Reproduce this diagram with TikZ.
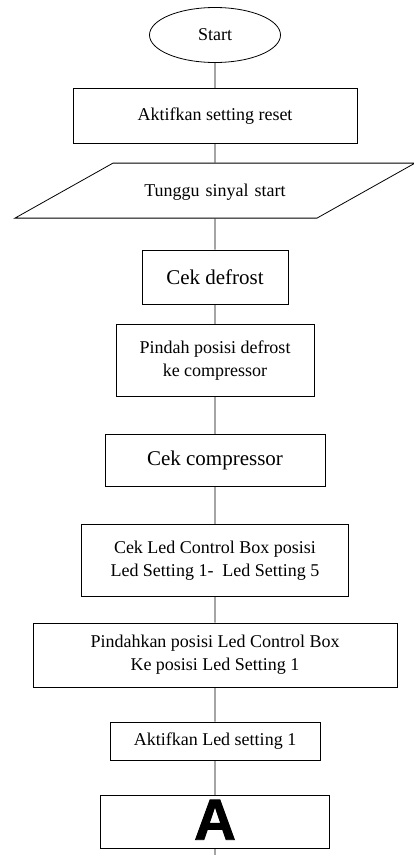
\documentclass[tikz,border=0pt]{standalone}
\usepackage{fontspec}
\setmainfont{Liberation Serif}
\newfontfamily\bigsans[BoldFeatures={FakeBold=1.5}]{Liberation Sans}
\usetikzlibrary{positioning,shapes.geometric}

\begin{document}
\begin{tikzpicture}[
  box/.style={draw, line width=0.8pt, rectangle, align=center, inner sep=0pt, font=\fontsize{18}{23}\selectfont},
  bigbox/.style={box, font=\fontsize{21}{25}\selectfont},
  term/.style={draw, line width=0.8pt, ellipse, inner sep=0pt, font=\fontsize{18}{23}\selectfont},
  io/.style={draw, line width=0.8pt, trapezium, trapezium left angle=29.3, trapezium right angle=150.7,
             inner sep=0pt, align=center, font=\fontsize{18}{23}\selectfont},
  flow/.style={draw, line width=0.8pt}
]
\useasboundingbox (0,0) rectangle (414pt,-855pt);

\node[term, minimum width=131pt, minimum height=55pt]  (start) at (215pt,-35pt)   {Start};
\node[box, minimum width=284pt, minimum height=55pt]   (reset)     [below=25pt of start]     {Aktifkan setting reset};
\node[io, text width=204pt, text height=33pt, text depth=22pt] (sinyal) [below=19pt of reset] {Tunggu sinyal start};
\node[bigbox, minimum width=146pt, minimum height=54pt] (defrost)  [below=31pt of sinyal]    {Cek defrost};
\node[box, minimum width=198pt, minimum height=72pt]   (pindah)    [below=20pt of defrost]   {Pindah posisi defrost\\ke compressor};
\node[bigbox, minimum width=220pt, minimum height=52pt] (comp)     [below=37pt of pindah]    {Cek compressor};
\node[box, minimum width=267pt, minimum height=72pt]   (cekled)    [below=37pt of comp]      {Cek Led Control Box posisi\\Led Setting 1- \ Led Setting 5};
\node[box, minimum width=364pt, minimum height=64pt]   (pindahled) [below=26pt of cekled]    {Pindahkan posisi Led Control Box\\Ke posisi Led Setting 1};
\node[box, minimum width=210pt, minimum height=38pt]   (led1)      [below=34pt of pindahled] {Aktifkan Led setting 1};
\node[box, minimum width=229pt, text height=44pt, text depth=9pt,
      font=\bigsans\bfseries\fontsize{58}{58}\selectfont] (A) [below=35pt of led1] {A};
\coordinate[below=13pt of A] (out);

\draw[flow] (start) -- (reset)
	(reset) -- (sinyal)
	(sinyal) -- (defrost)
	(defrost) -- (pindah)
	(pindah) -- (comp)
	(comp) -- (cekled)
	(cekled) -- (pindahled)
	(pindahled) -- (led1)
	(led1) -- (A)
	(A) -- (out);
\end{tikzpicture}
\end{document}
